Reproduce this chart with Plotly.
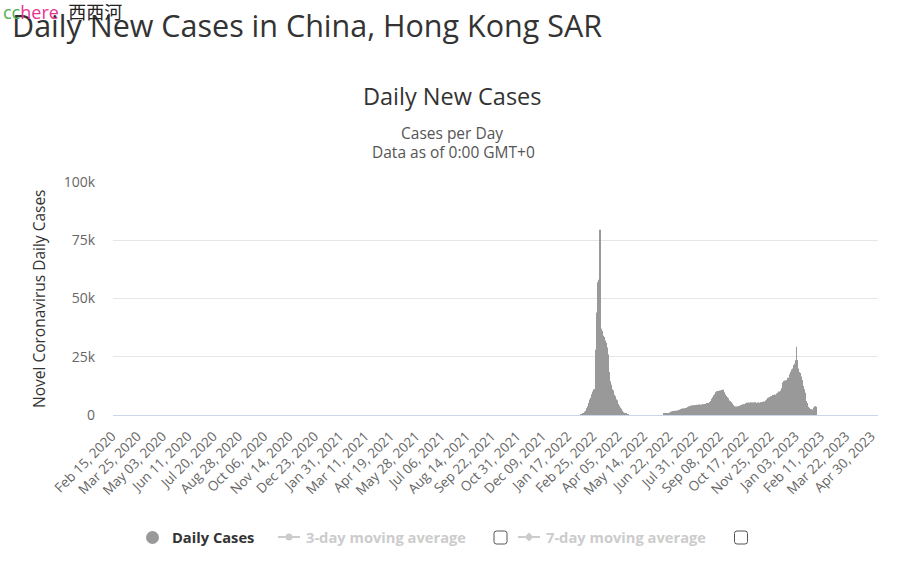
import pandas as pd
import plotly.graph_objects as go

# ---------------- data ----------------
wave1_start = "2022-02-01"
wave1_cases = [
    150, 300, 450, 600, 800, 1100, 1400, 1800, 2300, 2900,
    3200, 3800, 5200, 6300, 6600, 7400, 8200, 8900, 10100, 10400,
    10900, 11200, 17500, 28000, 44000, 48500, 57000, 58000,
    78500, 79500, 62000, 37000, 36000, 35500, 34000, 33500, 32500, 32000,
    31000, 30000, 29000, 26000, 22500, 18500, 16000, 14500, 13000, 12000,
    11000, 10500, 9500, 8700, 8000, 7200, 6800, 6300, 5400, 4700, 4000,
    3500, 3200, 2700, 2200, 1800, 1400, 1200, 1000, 800, 650,
    500, 420, 350, 280, 230,
]

wave2_start = "2022-06-08"
wave2_cases = [
    500, 600, 700, 650, 700, 750, 700, 800, 750, 900,
    1100, 1300, 1400, 1500, 1450,
    1600, 1700, 1750, 1800, 1650, 1750, 1800, 1900, 2000, 2100, 2200,
    2400, 2500, 2700, 2600, 2800, 2700, 2600, 2900, 3000, 2900, 3100, 3300, 3400,
    3600, 3800, 3900, 4000, 3900, 4100, 4000, 3900, 4200, 4100,
    4200, 4300, 4400, 4300, 4200, 4400, 4500, 4300, 4400, 4300, 4500, 4400, 4600, 4500, 4700, 4600,
    4800, 4900, 5000, 5100, 5000, 5200, 5300, 5600, 6000, 6500,
    7000, 7600, 8000, 8400, 8900,
    9500, 9800, 10200, 9900, 10300, 10000, 9700, 10500, 10400, 10700,
    10600, 10200, 10800, 9800, 9400,
    8800, 8200, 7900, 7600, 7200,
    6600, 6200, 5900, 5700, 5500, 5300, 4900,
    4300, 4000, 3700, 3600, 3500, 3400, 3600, 3700, 3500, 3800, 3900, 4000,
    4200, 4400, 4300, 4500, 4400, 4600, 4500, 4700,
    5000, 5200, 5300, 5100, 5400, 5300, 5200, 5500, 5400, 5300, 5200, 5400, 5100, 5300,
    5500, 5400, 5200, 5100, 5300, 5400, 5200, 5000, 5300, 5500, 5400, 5600, 5500,
    5700, 5800, 5600, 5900, 6200, 6600, 7000,
    7300, 7500, 7700, 7600, 7800, 8000, 8200,
    8400, 8600, 8500, 8800, 8700, 8600, 9000, 9200,
    9500, 9800, 10100, 9900, 10300, 10500, 11500,
    13000, 14000, 14500, 14300, 14800, 14200, 14600, 15000,
    15500, 16000, 15400, 16500, 17500,
    18500, 19500, 19000, 20000,
    20500, 21500, 22000, 21000, 23500,
    29300, 23600,
    20000, 19000, 18500, 18000, 17500, 16500, 15000,
    13500, 12500, 12000, 11000, 9500,
    7500, 6000, 5200, 4200,
    3500, 3000, 2800, 2600, 2500, 2400, 2300, 2200,
    2800, 3200, 3600, 3800, 3500,
]

tick_labels = [
    "Feb 15, 2020", "Mar 25, 2020", "May 03, 2020", "Jun 11, 2020", "Jul 20, 2020",
    "Aug 28, 2020", "Oct 06, 2020", "Nov 14, 2020", "Dec 23, 2020", "Jan 31, 2021",
    "Mar 11, 2021", "Apr 19, 2021", "May 28, 2021", "Jul 06, 2021", "Aug 14, 2021",
    "Sep 22, 2021", "Oct 31, 2021", "Dec 09, 2021", "Jan 17, 2022", "Feb 25, 2022",
    "Apr 05, 2022", "May 14, 2022", "Jun 22, 2022", "Jul 31, 2022", "Sep 08, 2022",
    "Oct 17, 2022", "Nov 25, 2022", "Jan 03, 2023", "Feb 11, 2023", "Mar 22, 2023",
    "Apr 30, 2023",
]

y_ticks = [0, 25000, 50000, 75000, 100000]
y_tick_labels = ["0", "25k", "50k", "75k", "100k"]

# ---------------- build ----------------
dates = list(pd.date_range(wave1_start, periods=len(wave1_cases), freq="D")) + \
        list(pd.date_range(wave2_start, periods=len(wave2_cases), freq="D"))
cases = wave1_cases + wave2_cases
tick_vals = [pd.to_datetime(t, format="%b %d, %Y") for t in tick_labels]

W, H = 902, 567
L, R, T, B = 113, 878, 182, 415


def px(x):
    return (x - L) / (R - L)


def py(y):
    return (B - y) / (B - T)


FONT = "Open Sans, Noto Sans, sans-serif"

fig = go.Figure()
fig.add_trace(go.Bar(
    x=dates, y=cases, name="Daily Cases",
    marker=dict(color="#999999", line=dict(width=0)),
    showlegend=False,
))

annotations = [
    dict(x=px(10), y=py(25), text="Daily New Cases in China, Hong Kong SAR",
         font=dict(family=FONT, size=30.5, color="#333333"), xanchor="left", yanchor="middle"),
    dict(x=px(1), y=py(12),
         text="<span style='color:#4caf50'>cc</span><span style='color:#e8348f'>here</span>  西西河",
         font=dict(family="Open Sans, Noto Sans CJK SC", size=18, color="#222222"),
         xanchor="left", yanchor="middle"),
    dict(x=px(452), y=py(96), text="Daily New Cases",
         font=dict(family=FONT, size=23.5, color="#333333"), xanchor="center", yanchor="middle"),
    dict(x=px(452), y=py(133), text="Cases per Day",
         font=dict(family=FONT, size=15.5, color="#555555"), xanchor="center", yanchor="middle"),
    dict(x=px(453), y=py(152), text="Data as of 0:00 GMT+0",
         font=dict(family=FONT, size=15.5, color="#555555"), xanchor="center", yanchor="middle"),
    dict(x=px(39), y=py(299), text="Novel Coronavirus Daily Cases", textangle=-90,
         font=dict(family=FONT, size=15.5, color="#333333"), xanchor="center", yanchor="middle"),
    dict(x=px(170), y=py(537), text="<b>Daily Cases</b>",
         font=dict(family=FONT, size=14.7, color="#333333"), xanchor="left", yanchor="middle"),
    dict(x=px(304), y=py(537), text="<b>3-day moving average</b>",
         font=dict(family=FONT, size=14.7, color="#cccccc"), xanchor="left", yanchor="middle"),
    dict(x=px(544), y=py(537), text="<b>7-day moving average</b>",
         font=dict(family=FONT, size=14.7, color="#cccccc"), xanchor="left", yanchor="middle"),
]
for a in annotations:
    a.update(xref="paper", yref="paper", showarrow=False)

shapes = [
    # legend: daily cases circle
    dict(type="circle", x0=px(146), x1=px(159), y0=py(531), y1=py(544),
         fillcolor="#999999", line=dict(width=0)),
    # 3-day icon
    dict(type="line", x0=px(278), x1=px(300), y0=py(537), y1=py(537),
         line=dict(color="#cccccc", width=2)),
    dict(type="circle", x0=px(285.5), x1=px(292.5), y0=py(533.5), y1=py(540.5),
         fillcolor="#cccccc", line=dict(width=0)),
    # 7-day icon
    dict(type="line", x0=px(518), x1=px(540), y0=py(537), y1=py(537),
         line=dict(color="#cccccc", width=2)),
    dict(type="path",
         path=f"M {px(529)} {py(532.5)} L {px(533.5)} {py(537)} L {px(529)} {py(541.5)} L {px(524.5)} {py(537)} Z",
         fillcolor="#cccccc", line=dict(width=0)),
]
for cx in (500.5, 741):
    x0, x1, y0, y1 = cx - 6.5, cx + 6.5, 531, 544
    r = 2.5
    path = (f"M {px(x0 + r)} {py(y0)} L {px(x1 - r)} {py(y0)} "
            f"Q {px(x1)} {py(y0)} {px(x1)} {py(y0 + r)} L {px(x1)} {py(y1 - r)} "
            f"Q {px(x1)} {py(y1)} {px(x1 - r)} {py(y1)} L {px(x0 + r)} {py(y1)} "
            f"Q {px(x0)} {py(y1)} {px(x0)} {py(y1 - r)} L {px(x0)} {py(y0 + r)} "
            f"Q {px(x0)} {py(y0)} {px(x0 + r)} {py(y0)} Z")
    shapes.append(dict(type="path", path=path, fillcolor="white",
                       line=dict(color="#555555", width=1)))
for s in shapes:
    s.update(xref="paper", yref="paper")

fig.update_layout(
    width=W, height=H,
    margin=dict(l=L, r=W - R, t=T, b=H - B, autoexpand=False),
    paper_bgcolor="white", plot_bgcolor="white",
    bargap=0.1,
    font=dict(family=FONT, color="#666666"),
    xaxis=dict(
        type="date", range=["2020-02-10 12:00", "2023-05-04 12:00"],
        tickmode="array", tickvals=tick_vals, ticktext=tick_labels,
        tickangle=-45, tickfont=dict(size=13.5, color="#666666"),
        ticklabelstandoff=7, ticklabelshift=-4,
        showgrid=False, showline=True, linecolor="#ccd6eb", linewidth=1,
        ticks="", zeroline=False, fixedrange=True,
    ),
    yaxis=dict(
        range=[0, 100000], tickmode="array", tickvals=y_ticks, ticktext=y_tick_labels,
        tickfont=dict(size=14, color="#666666"), gridcolor="#e6e6e6",
        zeroline=False, showline=False, ticks="", ticklabelstandoff=17,
        fixedrange=True,
    ),
    annotations=annotations,
    shapes=shapes,
)

fig.write_html("out.html", config={"displayModeBar": False},
               post_script="document.body.style.margin='0';")
